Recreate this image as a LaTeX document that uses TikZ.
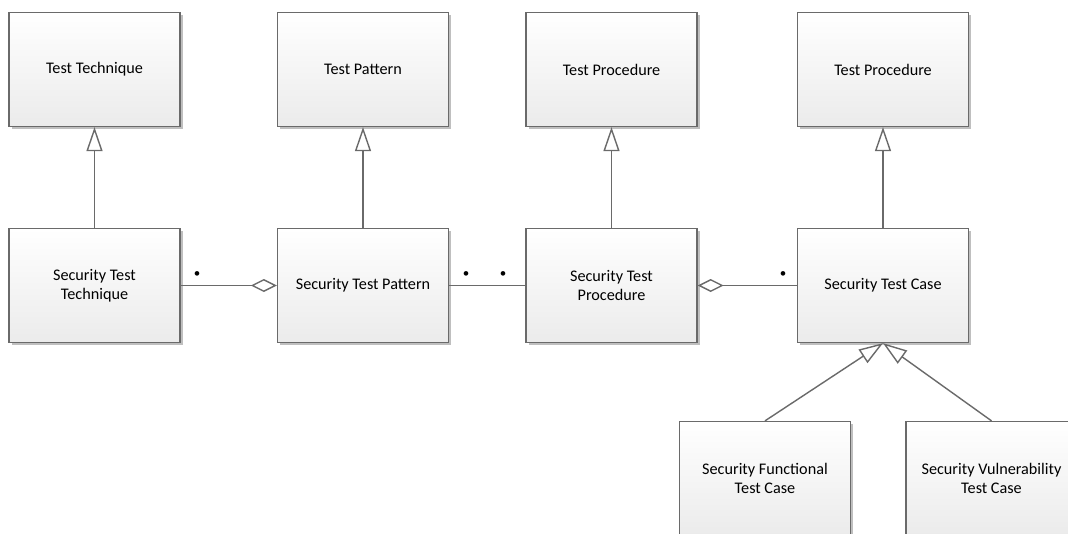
\documentclass[tikz,border=0pt]{standalone}
\usepackage{fontspec}
\setmainfont{Carlito}
\usetikzlibrary{arrows.meta,shadows}

\definecolor{linegray}{HTML}{6A6A6A}
\definecolor{boxgray}{HTML}{EBEBEB}

\begin{document}
\begin{tikzpicture}[x=1pt,y=-1pt,
  umlbox/.style={draw=linegray, line width=1.3pt, top color=white, bottom color=boxgray,
    minimum width=171pt, minimum height=114pt, inner sep=0pt, align=center,
    font=\fontsize{16.2}{19}\selectfont,
    drop shadow={shadow xshift=2.5pt, shadow yshift=-2.5pt, fill=black, opacity=0.25}},
  conn/.style={draw=linegray, line width=1.4pt},
  generalize/.style={conn, -{Triangle[open, length=24pt, width=16pt, fill=white]}},
  aggregate/.style={conn, -{Diamond[open, length=26pt, width=13pt, fill=white]}},
  mult/.style={font=\fontsize{13}{13}\selectfont, inner sep=0pt}
]
\clip (0,0) rectangle (1068,533);
\useasboundingbox (0,0) rectangle (1068,533);
\fill[white] (0,0) rectangle (1068,533);

% general concepts
\node[umlbox] (tt)  at (94.5,69.5) {Test Technique};
\node[umlbox] (tp)  at (363,69.5)  {Test Pattern};
\node[umlbox] (tpr) at (611.5,69.5) {Test Procedure};
\node[umlbox] (tc)  at (883,69.5)  {Test Procedure};

% security specialisations
\node[umlbox] (stt) at (94.5,285.5) {Security Test\\Technique};
\node[umlbox] (stp) at (363,285.5)  {Security Test Pattern};
\node[umlbox] (stpr) at (611.5,285.5) {Security Test\\Procedure};
\node[umlbox] (stc) at (883,285.5)  {Security Test Case};

% test case kinds
\node[umlbox] (sftc) at (765,478.5) {Security Functional\\Test Case};
\node[umlbox] (svtc) at (991.5,478.5) {Security Vulnerability\\Test Case};

% generalizations
\draw[generalize] (stt) -- (tt);
\draw[generalize] (stp) -- (tp);
\draw[generalize] (stpr) -- (tpr);
\draw[generalize] (stc) -- (tc);
\draw[generalize] (sftc.north) -- (stc.south);
\draw[generalize] (svtc.north) -- (stc.south);

% associations
\draw[aggregate] (stt.east) -- (stp.west);
\draw[conn] (stp.east) -- (stpr.west);
\draw[aggregate] (stc.west) -- (stpr.east);

% multiplicities
\node[mult] (m1) at (197,275) {\textbullet};
\node[mult] (m2) at (466,275) {\textbullet};
\node[mult] (m3) at (503,275) {\textbullet};
\node[mult] (m4) at (783,275) {\textbullet};
\end{tikzpicture}
\end{document}
